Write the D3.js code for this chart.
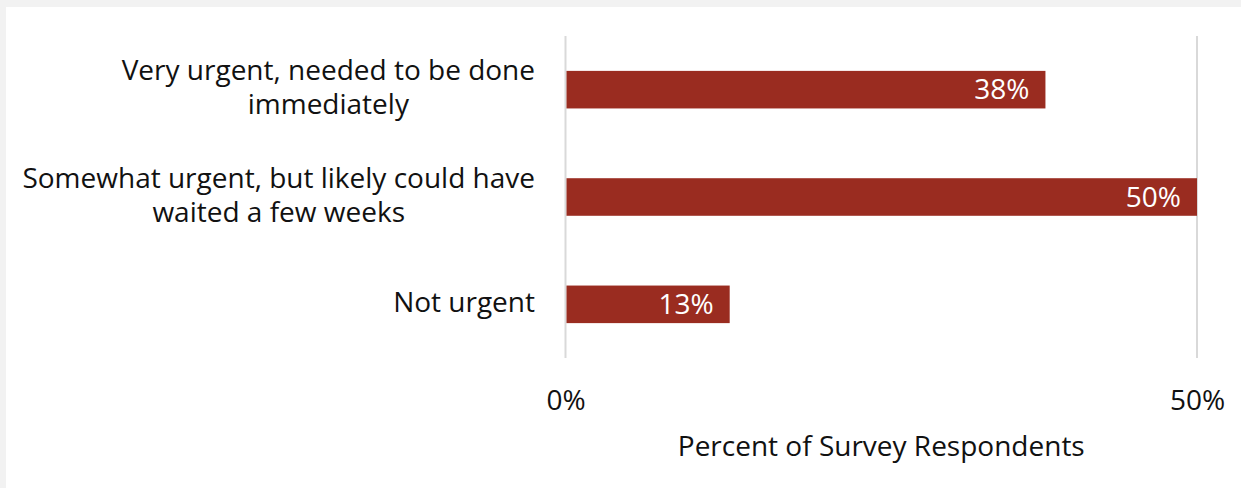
<!DOCTYPE html>
<html>
<head>
<meta charset="utf-8">
<script src="https://cdn.jsdelivr.net/npm/d3@7"></script>
<style>
  html, body { margin: 0; padding: 0; background: #f2f2f2; }
  svg { display: block; }
  text { font-family: "Open Sans", sans-serif; }
</style>
</head>
<body>
<svg id="chart" width="1241" height="488"></svg>
<script>
// Survey responses: how urgent was the work
const categories = [
  "Very urgent, needed to be done immediately",
  "Somewhat urgent, but likely could have waited a few weeks",
  "Not urgent"
];
const percents = [38, 50, 13];
const tickValues = [0, 50];
const axisTitle = "Percent of Survey Respondents";

const W = 1241, H = 488;
const svg = d3.select("#chart");

// panel
svg.append("rect").attr("x", 6).attr("y", 7).attr("width", W - 6).attr("height", H - 7).attr("fill", "#ffffff");

const plot = { left: 565.5, right: 1197, top: 36, bottom: 358 };
const fontSize = 28;
const textColor = "#111111";

const x = d3.scaleLinear().domain([0, 50]).range([plot.left, plot.right]);
const y = d3.scaleBand().domain(categories).range([plot.top, plot.bottom]).paddingInner(0.65).paddingOuter(0.325);

// vertical gridlines
svg.append("g").selectAll("line").data(tickValues).join("line")
  .attr("x1", d => x(d)).attr("x2", d => x(d))
  .attr("y1", plot.top).attr("y2", plot.bottom)
  .attr("stroke", "#d9d9d9").attr("stroke-width", 2);

// bars
svg.append("g").selectAll("rect").data(percents).join("rect")
  .attr("x", x(0) + 1)
  .attr("y", (d, i) => y(categories[i]))
  .attr("width", d => x(d) - x(0) - 1)
  .attr("height", y.bandwidth())
  .attr("fill", "#9a2c20");

// value labels inside bar ends
svg.append("g").selectAll("text").data(percents).join("text")
  .attr("x", d => x(d) - 16)
  .attr("y", (d, i) => y(categories[i]) + y.bandwidth() / 2)
  .attr("dy", "0.35em")
  .attr("text-anchor", "end")
  .attr("fill", "#ffffff")
  .attr("font-size", fontSize)
  .text(d => d + "%");

// category labels, wrapped and centered as a block, right edge near the axis
const labelRight = 535, maxLabelWidth = 525, lineHeight = 34;
const catG = svg.append("g");
categories.forEach(cat => {
  const words = cat.split(" ");
  const probe = catG.append("text").attr("font-size", fontSize);
  const lines = [];
  let cur = [];
  words.forEach(w => {
    const trial = cur.concat(w).join(" ");
    probe.text(trial);
    if (probe.node().getComputedTextLength() > maxLabelWidth && cur.length) {
      lines.push(cur.join(" "));
      cur = [w];
    } else cur.push(w);
  });
  lines.push(cur.join(" "));
  let maxW = 0;
  lines.forEach(l => { probe.text(l); maxW = Math.max(maxW, probe.node().getComputedTextLength()); });
  probe.remove();
  const cx = labelRight - maxW / 2;
  const cy = y(cat) + y.bandwidth() / 2;
  const t = catG.append("text")
    .attr("font-size", fontSize)
    .attr("fill", textColor)
    .attr("text-anchor", "middle");
  lines.forEach((l, i) => {
    t.append("tspan")
      .attr("x", cx)
      .attr("y", cy + (i - (lines.length - 1) / 2) * lineHeight - 2)
      .attr("dy", "0.35em")
      .text(l);
  });
});

// x axis tick labels
const axis = d3.axisBottom(x).tickValues(tickValues).tickFormat(d => d + "%").tickSize(0).tickPadding(0);
const axG = svg.append("g").attr("transform", `translate(0, 390)`).call(axis);
axG.select(".domain").remove();
axG.selectAll("text")
  .attr("font-size", fontSize)
  .attr("font-family", "Open Sans, sans-serif")
  .attr("fill", textColor)
  .attr("y", 0).attr("dy", "0.73em");

// axis title
svg.append("text")
  .attr("x", (plot.left + plot.right) / 2)
  .attr("y", 456)
  .attr("text-anchor", "middle")
  .attr("font-size", fontSize)
  .attr("fill", textColor)
  .text(axisTitle);
</script>
</body>
</html>
